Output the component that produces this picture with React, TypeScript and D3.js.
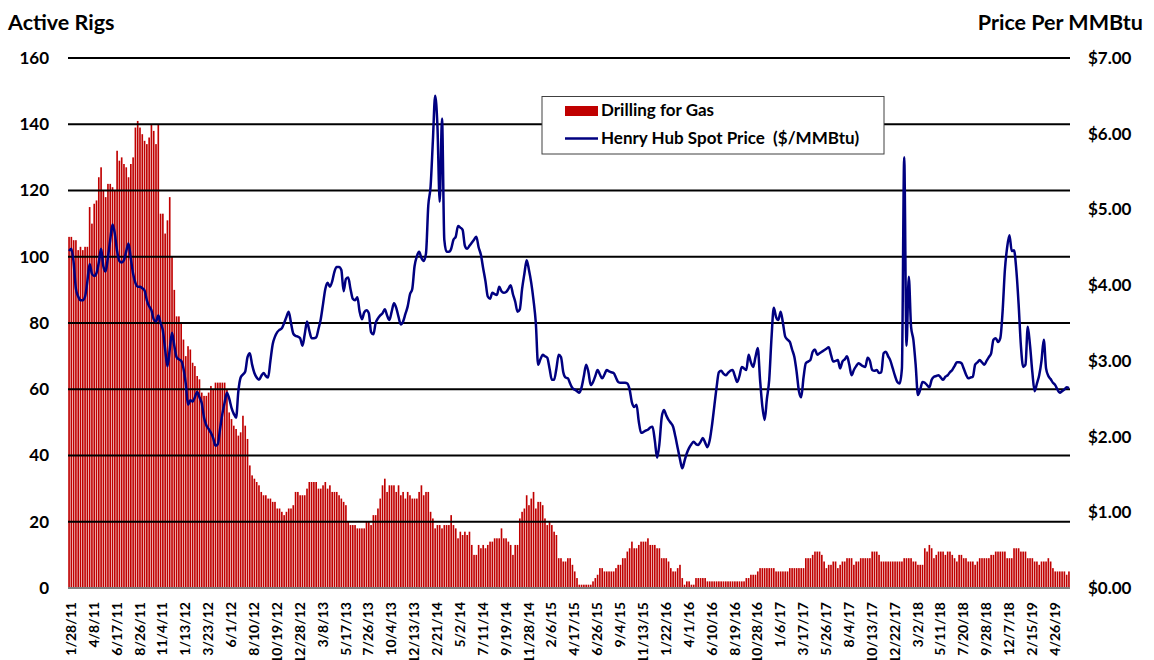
import * as d3 from "d3";

// weekly samples, 1/28/11 onward
const tickLabels = [
  "1/28/11", "4/8/11", "6/17/11", "8/26/11", "11/4/11", "1/13/12", "3/23/12", "6/1/12",
  "8/10/12", "10/19/12", "12/28/12", "3/8/13", "5/17/13", "7/26/13", "10/4/13", "12/13/13",
  "2/21/14", "5/2/14", "7/11/14", "9/19/14", "11/28/14", "2/6/15", "4/17/15", "6/26/15",
  "9/4/15", "11/13/15", "1/22/16", "4/1/16", "6/10/16", "8/19/16", "10/28/16", "1/6/17",
  "3/17/17", "5/26/17", "8/4/17", "10/13/17", "12/22/17", "3/2/18", "5/11/18", "7/20/18",
  "9/28/18", "12/7/18", "2/15/19", "4/26/19",
];

const gasRigs = [
  106, 106, 105, 105, 102, 103, 102, 103, 103, 115,
  110, 116, 117, 124, 127, 120, 118, 122, 122, 121,
  120, 132, 129, 130, 128, 127, 124, 128, 130, 139,
  141, 139, 137, 135, 134, 136, 140, 138, 134, 140,
  113, 113, 107, 111, 118, 100, 90, 82, 82, 80,
  75, 70, 73, 72, 68, 67, 64, 63, 59, 58,
  58, 59, 61, 60, 62, 62, 62, 62, 62, 60,
  53, 51, 49, 48, 46, 47, 52, 49, 45, 37,
  34, 33, 32, 31, 29, 28, 28, 27, 27, 26,
  26, 24, 24, 23, 22, 23, 24, 24, 25, 29,
  29, 28, 28, 28, 30, 32, 32, 32, 32, 30,
  30, 31, 32, 30, 31, 29, 29, 29, 28, 27,
  26, 25, 20, 19, 19, 19, 18, 18, 18, 18,
  20, 20, 19, 22, 22, 24, 27, 31, 33, 29,
  31, 31, 31, 29, 31, 28, 29, 27, 29, 28,
  27, 27, 27, 29, 31, 28, 29, 29, 23, 21,
  18, 19, 19, 18, 19, 19, 19, 22, 19, 18,
  15, 17, 16, 17, 16, 17, 13, 10, 10, 13,
  12, 13, 12, 13, 14, 14, 15, 15, 15, 18,
  15, 15, 14, 13, 10, 13, 13, 21, 23, 24,
  28, 25, 27, 29, 24, 26, 26, 25, 21, 19,
  20, 19, 17, 16, 9, 9, 8, 8, 9, 9,
  7, 5, 3, 1, 1, 1, 1, 1, 1, 2,
  3, 4, 6, 6, 5, 5, 5, 5, 5, 6,
  7, 7, 9, 9, 11, 12, 14, 12, 12, 13,
  14, 14, 14, 15, 13, 13, 13, 12, 12, 9,
  9, 9, 8, 6, 5, 5, 6, 7, 3, 1,
  2, 2, 1, 1, 3, 3, 3, 3, 3, 2,
  2, 2, 2, 2, 2, 2, 2, 2, 2, 2,
  2, 2, 2, 2, 2, 2, 3, 3, 4, 4,
  4, 5, 6, 6, 6, 6, 6, 6, 6, 5,
  5, 5, 5, 5, 5, 6, 6, 6, 6, 6,
  6, 6, 9, 9, 9, 10, 11, 11, 11, 10,
  8, 6, 7, 7, 8, 8, 6, 7, 8, 8,
  9, 9, 9, 7, 8, 8, 9, 9, 9, 9,
  9, 11, 11, 11, 10, 8, 8, 8, 8, 8,
  8, 8, 8, 8, 8, 9, 9, 9, 9, 8,
  8, 7, 7, 7, 12, 11, 13, 12, 9, 10,
  11, 11, 11, 10, 11, 11, 10, 9, 8, 10,
  10, 9, 9, 8, 8, 8, 7, 8, 9, 9,
  9, 9, 9, 10, 10, 11, 11, 11, 11, 11,
  9, 9, 9, 12, 12, 12, 11, 11, 11, 9,
  9, 9, 8, 8, 7, 8, 8, 8, 9, 8,
  6, 5, 5, 5, 5, 5, 4, 5,
];

const henryHub = [
  4.45, 4.48, 4.30, 3.95, 3.85, 3.80, 3.80, 3.85, 4.05, 4.28,
  4.15, 4.12, 4.16, 4.30, 4.48, 4.25, 4.18, 4.37, 4.60, 4.80,
  4.68, 4.45, 4.32, 4.30, 4.33, 4.45, 4.55, 4.35, 4.15, 4.03,
  3.98, 3.98, 3.96, 3.93, 3.80, 3.72, 3.67, 3.55, 3.52, 3.60,
  3.50, 3.40, 3.15, 2.93, 3.15, 3.37, 3.20, 3.05, 3.02, 3.00,
  2.90, 2.70, 2.42, 2.48, 2.46, 2.52, 2.59, 2.52, 2.44, 2.25,
  2.15, 2.10, 2.05, 1.98, 1.88, 1.90, 2.10, 2.30, 2.45, 2.58,
  2.50, 2.38, 2.30, 2.25, 2.60, 2.78, 2.82, 2.86, 3.05, 3.10,
  2.95, 2.84, 2.78, 2.75, 2.80, 2.84, 2.80, 2.78, 3.00, 3.22,
  3.32, 3.38, 3.41, 3.43, 3.50, 3.58, 3.65, 3.50, 3.36, 3.33,
  3.32, 3.30, 3.20, 3.35, 3.52, 3.40, 3.30, 3.30, 3.31, 3.42,
  3.55, 3.75, 3.95, 4.03, 3.98, 4.05, 4.18, 4.24, 4.24, 4.20,
  3.92, 4.08, 4.10, 3.95, 3.82, 3.80, 3.84, 3.65, 3.55, 3.64,
  3.67, 3.63, 3.38, 3.35, 3.50, 3.56, 3.60, 3.63, 3.68, 3.60,
  3.54, 3.65, 3.76, 3.70, 3.58, 3.48, 3.52, 3.62, 3.72, 3.88,
  3.95, 4.25, 4.38, 4.44, 4.36, 4.32, 4.42, 5.05, 5.30, 5.90,
  6.50, 6.10, 5.10, 6.20, 4.60, 4.44, 4.44, 4.48, 4.60, 4.64,
  4.78, 4.76, 4.73, 4.52, 4.48, 4.52, 4.56, 4.60, 4.64, 4.50,
  4.40, 4.22, 4.05, 3.85, 3.82, 3.90, 3.88, 3.87, 3.98, 3.92,
  3.90, 3.91, 3.95, 4.00, 3.88, 3.78, 3.65, 3.68, 3.95, 4.15,
  4.33, 4.20, 4.03, 3.80, 3.50, 2.95, 3.02, 3.08, 3.06, 3.04,
  2.90, 2.75, 2.75, 2.90, 3.08, 3.05, 2.85, 2.78, 2.77, 2.70,
  2.64, 2.62, 2.60, 2.58, 2.65, 2.80, 2.95, 2.85, 2.68, 2.72,
  2.80, 2.88, 2.82, 2.77, 2.82, 2.88, 2.86, 2.85, 2.84, 2.78,
  2.72, 2.71, 2.71, 2.71, 2.70, 2.62, 2.45, 2.39, 2.42, 2.20,
  2.05, 2.06, 2.08, 2.09, 2.12, 2.13, 1.95, 1.72, 1.90, 2.25,
  2.35, 2.28, 2.22, 2.18, 2.13, 2.00, 1.85, 1.70, 1.58, 1.68,
  1.78, 1.85, 1.90, 1.93, 1.90, 1.89, 1.93, 1.98, 1.92, 1.86,
  1.95, 2.15, 2.40, 2.65, 2.85, 2.87, 2.83, 2.81, 2.84, 2.87,
  2.88, 2.80, 2.72, 2.80, 2.92, 2.90, 2.88, 3.08, 2.98, 2.92,
  3.05, 3.17, 2.75, 2.40, 2.22, 2.50, 2.75, 3.30, 3.70, 3.58,
  3.54, 3.65, 3.50, 3.32, 3.28, 3.25, 3.15, 3.05, 2.85, 2.60,
  2.52, 2.78, 2.97, 2.99, 3.01, 3.12, 3.15, 3.08, 3.10, 3.12,
  3.14, 3.16, 3.18, 3.08, 2.99, 3.00, 3.01, 2.90, 2.99, 3.02,
  3.06, 2.95, 2.81, 2.88, 2.93, 2.97, 2.95, 2.93, 2.92, 3.04,
  3.00, 2.88, 2.87, 2.88, 2.84, 2.85, 3.10, 3.12, 3.06, 3.00,
  2.90, 2.80, 2.72, 2.70, 2.90, 5.69, 3.20, 4.11, 3.45, 3.28,
  2.95, 2.55, 2.62, 2.72, 2.71, 2.68, 2.65, 2.75, 2.79, 2.80,
  2.81, 2.78, 2.75, 2.79, 2.81, 2.85, 2.88, 2.93, 2.98, 2.98,
  2.97, 2.90, 2.82, 2.77, 2.78, 2.79, 2.95, 2.98, 3.01, 2.98,
  2.95, 3.00, 3.05, 3.10, 3.28, 3.30, 3.25, 3.30, 3.65, 4.20,
  4.50, 4.66, 4.45, 4.46, 4.20, 3.75, 3.20, 2.92, 2.95, 3.45,
  3.20, 2.85, 2.60, 2.70, 2.81, 3.00, 3.28, 2.90, 2.80, 2.76,
  2.71, 2.68, 2.62, 2.58, 2.60, 2.62, 2.65, 2.64,
];

const rigTicks = [0, 20, 40, 60, 80, 100, 120, 140, 160];
const priceTicks = [0, 1, 2, 3, 4, 5, 6, 7];

const width = 1154;
const height = 660;
const left = 68;
const right = 1070;
const top = 58;
const bottom = 588;
const font = "Lato, 'Open Sans', sans-serif";

export default function App() {
  const weeks = d3.range(gasRigs.length);
  const x = d3.scaleBand<number>().domain(weeks).range([left, right]).paddingInner(0.28).paddingOuter(0.1);
  const yRigs = d3.scaleLinear().domain([0, 160]).range([bottom, top]);
  const yPrice = d3.scaleLinear().domain([0, 7]).range([bottom, top]);
  const cx = (i: number) => (x(i) as number) + x.bandwidth() / 2;

  const line = d3
    .line<number>()
    .x((_, i) => cx(i))
    .y((d) => yPrice(d))
    .curve(d3.curveMonotoneX);

  return (
    <div style={{ position: "absolute", left: 0, top: 0 }}>
      <svg width={width} height={height} style={{ display: "block", background: "#fff" }} fontFamily={font}>
        <text x={8} y={30} fontSize={21.5} fontWeight={700}>Active Rigs</text>
        <text x={1143} y={30} fontSize={21.5} fontWeight={700} textAnchor="end">Price Per MMBtu</text>

        {/* bars */}
        <g fill="#c00000">
          {gasRigs.map((v, i) => (
            <rect key={i} x={x(i)} y={yRigs(v)} width={x.bandwidth()} height={bottom - yRigs(v)} />
          ))}
        </g>

        {/* gridlines */}
        {rigTicks.filter((t) => t > 0).map((t) => (
          <line key={t} x1={left} x2={right} y1={yRigs(t)} y2={yRigs(t)} stroke="#000" strokeWidth={2} />
        ))}
        <line x1={left} x2={right} y1={bottom} y2={bottom} stroke="#7f7f7f" strokeWidth={2} />

        <path d={line(henryHub) || ""} fill="none" stroke="#000080" strokeWidth={2.5} strokeLinejoin="round" />

        {/* left axis */}
        {rigTicks.map((t) => (
          <text key={t} x={49} y={yRigs(t)} dy="0.35em" textAnchor="end" fontSize={17} fontWeight={700}>
            {t}
          </text>
        ))}
        {/* right axis */}
        {priceTicks.map((t) => (
          <text key={t} x={1088} y={yPrice(t)} dy="0.35em" fontSize={17} fontWeight={700}>
            {d3.format("$.2f")(t)}
          </text>
        ))}
        {/* x labels */}
        {tickLabels.map((lab, k) => (
          <text
            key={lab}
            transform={`translate(${cx(k * 10) + 2},602) rotate(-90)`}
            dy="0.35em"
            textAnchor="end"
            fontSize={14}
            fontWeight={700}
          >
            {lab}
          </text>
        ))}

        {/* legend */}
        <rect x={542} y={96.5} width={342} height={57.5} fill="#fff" stroke="#404040" strokeWidth={1} />
        <rect x={565} y={106} width={33} height={10} fill="#c00000" />
        <text x={601} y={110} dy="0.35em" fontSize={17} fontWeight={700}>Drilling for Gas</text>
        <line x1={565} x2={598} y1={138.5} y2={138.5} stroke="#000080" strokeWidth={2.5} />
        <text x={601} y={138} dy="0.35em" fontSize={17} fontWeight={700} xmlSpace="preserve">
          {"Henry Hub Spot Price  ($/MMBtu)"}
        </text>
      </svg>
    </div>
  );
}
